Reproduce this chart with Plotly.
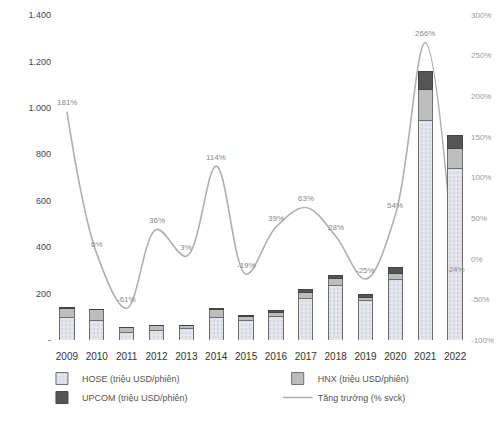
import plotly.graph_objects as go

years = ["2009", "2010", "2011", "2012", "2013", "2014", "2015", "2016",
         "2017", "2018", "2019", "2020", "2021", "2022"]
hose = [95, 83, 33, 42, 48, 98, 82, 100, 180, 235, 170, 260, 946, 740]
hnx = [42, 48, 19, 19, 14, 35, 20, 18, 25, 28, 14, 25, 133, 86]
upcom = [2, 2, 1, 2, 2, 3, 5, 8, 13, 17, 14, 26, 77, 56]
growth = [181, 6, -61, 36, 3, 114, -19, 39, 63, 28, -25, 54, 266, -24]

left_vals = [0, 200, 400, 600, 800, 1000, 1200, 1400]
left_text = ["-", "200", "400", "600", "800", "1.000", "1.200", "1.400"]
right_vals = [-100, -50, 0, 50, 100, 150, 200, 250, 300]
right_text = ["-100%", "-50%", "0%", "50%", "100%", "150%", "200%", "250%", "300%"]

FONT = "Liberation Sans, Arial, sans-serif"

fig = go.Figure()

# growth line on base axis (drawn beneath the bars)
fig.add_trace(go.Scatter(
    x=years, y=growth, yaxis="y", mode="lines",
    name="Tăng trưởng (% svck)", legend="legend2",
    line=dict(color="#b0b0b0", width=1.6, shape="spline", smoothing=1.0),
    legendrank=2,
))

fig.add_trace(go.Bar(
    x=years, y=hose, yaxis="y2", name="HOSE (triệu USD/phiên)",
    legend="legend",
    marker=dict(color="#e6e6ee", line=dict(color="#6e6e6e", width=1),
                pattern=dict(shape=".", fgcolor="#c4c4cc", size=4, solidity=0.3)),
    legendrank=1,
))
fig.add_trace(go.Bar(
    x=years, y=hnx, yaxis="y2", name="HNX (triệu USD/phiên)",
    legend="legend2",
    marker=dict(color="#bdbdbd", line=dict(color="#6e6e6e", width=1)),
    legendrank=1,
))
fig.add_trace(go.Bar(
    x=years, y=upcom, yaxis="y2", name="UPCOM (triệu USD/phiên)",
    legend="legend",
    marker=dict(color="#555555", line=dict(color="#444444", width=1)),
    legendrank=2,
))

annotations = []
for i, g in enumerate(growth):
    annotations.append(dict(
        x=i, y=g, xref="x", yref="y", text=f"{g}%", showarrow=False,
        yshift=9, font=dict(family=FONT, size=8, color="#8a8a8a"),
    ))

legend_common = dict(orientation="v", yanchor="top", xanchor="left",
                     font=dict(size=9, color="#555555"),
                     traceorder="normal", tracegroupgap=0,
                     bgcolor="rgba(0,0,0,0)")

fig.update_layout(
    width=502, height=421,
    margin=dict(l=44, r=40, t=7, b=89, autoexpand=False),
    paper_bgcolor="white", plot_bgcolor="white",
    font=dict(family=FONT, size=10, color="#444444"),
    barmode="stack", bargap=0.52,
    separators=",.",
    xaxis=dict(type="category", range=[-0.5, 13.5], showgrid=False,
               showline=False, ticks="outside", ticklen=7,
               tickcolor="rgba(0,0,0,0)",
               tickfont=dict(size=10, color="#333333")),
    yaxis=dict(side="right", range=[-100, 300], tickvals=right_vals,
               ticktext=right_text, showgrid=False, zeroline=False,
               showline=False, tickfont=dict(size=8, color="#9a9a9a")),
    yaxis2=dict(side="left", overlaying="y", range=[0, 1400],
                tickvals=left_vals, ticktext=left_text, showgrid=False,
                zeroline=False, showline=False,
                tickfont=dict(size=9, color="#444444")),
    legend=dict(x=-0.024, y=-0.074, **legend_common),
    legend2=dict(x=0.54, y=-0.074, **legend_common),
    annotations=annotations,
    showlegend=True,
)

fig.write_html("out.html")
